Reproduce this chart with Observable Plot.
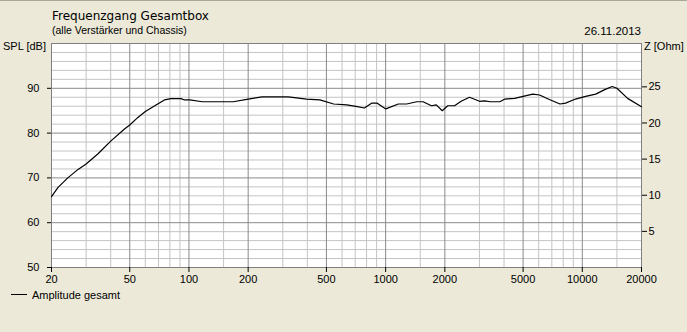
<!DOCTYPE html>
<html>
<head>
<meta charset="utf-8">
<script src="https://cdn.jsdelivr.net/npm/d3@7"></script>
<script src="https://cdn.jsdelivr.net/npm/@observablehq/plot@0.6"></script>
<style>
  html, body { margin: 0; padding: 0; background: #ECE9D8; }
  #chart { position: relative; width: 687px; height: 332px; overflow: hidden; border-top: 1px solid #a9a79a; box-sizing: border-box; }
  #chart svg { display: block; }
</style>
</head>
<body>
<div id="chart"></div>
<script>
// Frequency response (Hz) and SPL (dB)
const freq = [20, 21.6, 24.2, 27.3, 30, 34.5, 40, 47, 50, 55, 60, 67, 75, 81, 91, 95, 101, 117, 168, 200, 235, 320, 396, 463, 544, 634, 706, 780, 852, 903, 1002, 1160, 1280, 1440, 1550, 1710, 1810, 1940, 2070, 2240, 2420, 2670, 3000, 3190, 3400, 3810, 4040, 4530, 5000, 5600, 6060, 6800, 7700, 8220, 9240, 10400, 11700, 13000, 14200, 15000, 17000, 20000];
const spl = [65.8, 67.9, 70.0, 71.9, 73.1, 75.4, 78.2, 80.9, 81.8, 83.5, 84.8, 86.1, 87.4, 87.7, 87.7, 87.4, 87.4, 87.0, 87.0, 87.6, 88.1, 88.1, 87.6, 87.4, 86.5, 86.3, 85.95, 85.6, 86.7, 86.7, 85.4, 86.5, 86.5, 87.0, 87.0, 86.1, 86.3, 85.0, 86.1, 86.1, 87.1, 88.0, 87.1, 87.2, 87.0, 87.0, 87.6, 87.75, 88.2, 88.7, 88.5, 87.5, 86.5, 86.7, 87.6, 88.2, 88.7, 89.7, 90.4, 90.0, 87.75, 85.9];

// Axis ticks
const xTicks = [20, 50, 100, 200, 500, 1000, 2000, 5000, 10000, 20000];
const xMinorGrid = [30, 40, 60, 70, 80, 90, 150, 300, 400, 600, 700, 800, 900, 1500, 3000, 4000, 6000, 7000, 8000, 9000, 15000];
const splTicks = [50, 60, 70, 80, 90];
const splMinorGrid = [52, 54, 56, 58, 62, 64, 66, 68, 72, 74, 76, 78, 82, 84, 86, 88, 92, 94, 96, 98];
const splMajorGrid = [60, 70, 80, 90];
const zTicks = [5, 10, 15, 20, 25];
const zMax = 31; // right axis spans 0..31 Ohm over 50..100 dB

// Texts
const title = "Frequenzgang Gesamtbox";
const subtitle = "(alle Verstärker und Chassis)";
const dateText = "26.11.2013";
const leftLabel = "SPL [dB]";
const rightLabel = "Z [Ohm]";
const legendLabel = "Amplitude gesamt";

const data = freq.map((f, i) => ({f, db: spl[i]}));
const zToDb = z => 50 + z * 50 / zMax;

const plot = Plot.plot({
  width: 687,
  height: 331,
  marginLeft: 51,
  marginRight: 46,
  marginTop: 42,
  marginBottom: 65,
  style: {fontFamily: "'Liberation Sans', Arial, sans-serif", fontSize: "11px", background: "transparent", color: "#000"},
  x: {type: "log", domain: [20, 20000]},
  y: {domain: [50, 100]},
  marks: [
    Plot.frame({fill: "white", stroke: null}),
    Plot.ruleY(splMinorGrid, {stroke: "#c4c4c4", strokeWidth: 1}),
    Plot.ruleX(xMinorGrid, {stroke: "#c4c4c4", strokeWidth: 1}),
    Plot.ruleY(splMajorGrid, {stroke: "#8a8a8a", strokeWidth: 1}),
    Plot.ruleX(xTicks, {stroke: "#8a8a8a", strokeWidth: 1}),
    Plot.frame({stroke: "#808080"}),
    Plot.line(data, {x: "f", y: "db", stroke: "#000", strokeWidth: 1.2}),
    Plot.axisY({anchor: "left", ticks: splTicks, tickSize: 4, tickPadding: 8, label: null, fontSize: 11}),
    Plot.axisY({anchor: "right", ticks: zTicks.map(zToDb), tickFormat: d => String(Math.round((d - 50) * zMax / 50)), tickSize: 5, tickPadding: 2, label: null, fontSize: 11}),
    Plot.axisX({ticks: xTicks, tickFormat: () => "", tickSize: 5, label: null}),
    Plot.text(xTicks, {x: d => d, text: d => String(d), frameAnchor: "bottom", lineAnchor: "top", dy: 8, fontSize: 11})
  ]
});

document.getElementById("chart").appendChild(plot);

// Titles, axis labels and legend as real SVG text
const svg = d3.select(plot);
const g = svg.append("g").attr("fill", "#000").attr("text-anchor", "start");
g.append("text").attr("x", 52).attr("y", 18.5).attr("font-family", "'DejaVu Sans', Tahoma, sans-serif").attr("font-size", 12).text(title);
g.append("text").attr("x", 52).attr("y", 32.5).attr("font-size", 10.5).text(subtitle);
g.append("text").attr("x", 641).attr("y", 33.5).attr("text-anchor", "end").attr("font-size", 11.5).text(dateText);
g.append("text").attr("x", 3).attr("y", 48.5).attr("font-size", 11).text(leftLabel);
g.append("text").attr("x", 644).attr("y", 48.5).attr("font-size", 11).text(rightLabel);
g.append("line").attr("x1", 11).attr("x2", 27).attr("y1", 293.5).attr("y2", 293.5).attr("stroke", "#000").attr("stroke-width", 1);
g.append("text").attr("x", 32).attr("y", 297.5).attr("font-size", 11).text(legendLabel);
</script>
</body>
</html>
